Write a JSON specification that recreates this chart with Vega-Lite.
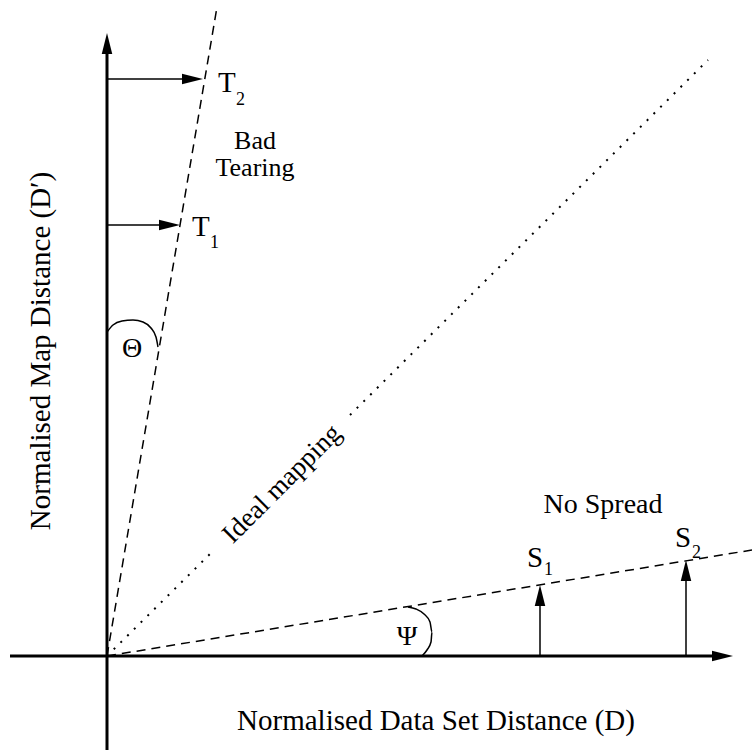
{
  "$schema": "https://vega.github.io/schema/vega-lite/v6.json",
  "width": 752,
  "height": 753,
  "padding": 0,
  "autosize": {"type": "none"},
  "background": "white",
  "config": {
    "view": {"stroke": null},
    "text": {"font": "Liberation Serif", "color": "black"}
  },
  "datasets": {
    "segments": [
      {"part": "axis", "x": -97, "y": 0, "x2": 615, "y2": 0},
      {"part": "axis", "x": 0, "y": -94, "x2": 0, "y2": 605},
      {"part": "arrow", "x": 0, "y": 577, "x2": 85, "y2": 577},
      {"part": "arrow", "x": 0, "y": 431, "x2": 62, "y2": 431},
      {"part": "arrow", "x": 433, "y": 0, "x2": 433, "y2": 60},
      {"part": "arrow", "x": 579, "y": 0, "x2": 579, "y2": 85},
      {"part": "dashed", "x": 0, "y": 0, "x2": 110, "y2": 649},
      {"part": "dashed", "x": 0, "y": 0, "x2": 645, "y2": 106},
      {"part": "ideal", "x": 0, "y": 0, "x2": 106, "y2": 105},
      {"part": "ideal", "x": 243, "y": 241, "x2": 601, "y2": 596}
    ],
    "arcs": [
      {"arc": "theta", "i": 1, "x": 0, "y": 324},
      {"arc": "theta", "i": 2, "x": 6, "y": 331},
      {"arc": "theta", "i": 3, "x": 15, "y": 335},
      {"arc": "theta", "i": 4, "x": 26, "y": 336},
      {"arc": "theta", "i": 5, "x": 36, "y": 334},
      {"arc": "theta", "i": 6, "x": 44, "y": 328},
      {"arc": "theta", "i": 7, "x": 49, "y": 319},
      {"arc": "theta", "i": 8, "x": 51, "y": 309},
      {"arc": "psi", "i": 1, "x": 301, "y": 49},
      {"arc": "psi", "i": 2, "x": 309, "y": 47},
      {"arc": "psi", "i": 3, "x": 317, "y": 42},
      {"arc": "psi", "i": 4, "x": 323, "y": 34},
      {"arc": "psi", "i": 5, "x": 325, "y": 24},
      {"arc": "psi", "i": 6, "x": 324, "y": 14},
      {"arc": "psi", "i": 7, "x": 320, "y": 6},
      {"arc": "psi", "i": 8, "x": 315, "y": 0}
    ],
    "heads": [
      {"dir": "right", "x": 626, "y": 0},
      {"dir": "right", "x": 96, "y": 577},
      {"dir": "right", "x": 73, "y": 431},
      {"dir": "up", "x": 0, "y": 623},
      {"dir": "up", "x": 433, "y": 71},
      {"dir": "up", "x": 579, "y": 96}
    ],
    "labels": [
      {"role": "main", "text": "T", "x": 111, "y": 564},
      {"role": "sub", "text": "2", "x": 129, "y": 551},
      {"role": "main", "text": "T", "x": 85, "y": 420},
      {"role": "sub", "text": "1", "x": 103, "y": 408},
      {"role": "main", "text": "S", "x": 420, "y": 89},
      {"role": "sub", "text": "1", "x": 437, "y": 81},
      {"role": "main", "text": "S", "x": 568, "y": 109},
      {"role": "sub", "text": "2", "x": 585, "y": 98},
      {"role": "center", "text": "No Spread", "x": 496, "y": 143},
      {"role": "center", "text": "Θ", "x": 25, "y": 299},
      {"role": "center", "text": "Ψ", "x": 300, "y": 11},
      {"role": "note", "text": "Bad", "x": 148, "y": 507},
      {"role": "note", "text": "Tearing", "x": 148, "y": 480},
      {"role": "xtitle", "text": "Normalised Data Set Distance (D)", "x": 329, "y": -74},
      {"role": "ytitle", "text": "Normalised Map Distance (D′)", "x": -57, "y": 305},
      {"role": "ideal", "text": "Ideal mapping", "x": 175, "y": 172}
    ]
  },
  "encoding": {
    "x": {"field": "x", "type": "quantitative", "scale": {"domain": [-107, 645], "nice": false, "zero": false}, "axis": null},
    "y": {"field": "y", "type": "quantitative", "scale": {"domain": [-97, 656], "nice": false, "zero": false}, "axis": null}
  },
  "layer": [
    {
      "data": {"name": "segments"},
      "transform": [{"filter": "datum.part == 'axis'"}],
      "mark": {"type": "rule", "color": "black", "strokeWidth": 3},
      "encoding": {"x2": {"field": "x2"}, "y2": {"field": "y2"}}
    },
    {
      "data": {"name": "segments"},
      "transform": [{"filter": "datum.part == 'arrow'"}],
      "mark": {"type": "rule", "color": "black", "strokeWidth": 1.5},
      "encoding": {"x2": {"field": "x2"}, "y2": {"field": "y2"}}
    },
    {
      "data": {"name": "segments"},
      "transform": [{"filter": "datum.part == 'dashed'"}],
      "mark": {"type": "rule", "color": "black", "strokeWidth": 1.5, "strokeDash": [9, 6]},
      "encoding": {"x2": {"field": "x2"}, "y2": {"field": "y2"}}
    },
    {
      "data": {"name": "segments"},
      "transform": [{"filter": "datum.part == 'ideal'"}],
      "mark": {"type": "rule", "color": "black", "strokeWidth": 2, "strokeDash": [2, 7.5]},
      "encoding": {"x2": {"field": "x2"}, "y2": {"field": "y2"}}
    },
    {
      "data": {"name": "arcs"},
      "mark": {"type": "line", "color": "black", "strokeWidth": 1.5, "interpolate": "monotone"},
      "encoding": {"detail": {"field": "arc"}, "order": {"field": "i", "type": "quantitative"}}
    },
    {
      "data": {"name": "heads"},
      "transform": [{"filter": "datum.dir == 'right'"}],
      "mark": {"type": "point", "shape": "M0,0L-2,-0.5L-2,0.5Z", "size": 441, "filled": true, "color": "black", "opacity": 1, "strokeWidth": 0}
    },
    {
      "data": {"name": "heads"},
      "transform": [{"filter": "datum.dir == 'up'"}],
      "mark": {"type": "point", "shape": "M0,0L-0.5,2L0.5,2Z", "size": 441, "filled": true, "color": "black", "opacity": 1, "strokeWidth": 0}
    },
    {
      "data": {"name": "labels"},
      "transform": [{"filter": "datum.role == 'main'"}],
      "mark": {"type": "text", "fontSize": 29, "align": "left", "baseline": "alphabetic"},
      "encoding": {"text": {"field": "text"}}
    },
    {
      "data": {"name": "labels"},
      "transform": [{"filter": "datum.role == 'sub'"}],
      "mark": {"type": "text", "fontSize": 18, "align": "left", "baseline": "alphabetic"},
      "encoding": {"text": {"field": "text"}}
    },
    {
      "data": {"name": "labels"},
      "transform": [{"filter": "datum.role == 'center'"}],
      "mark": {"type": "text", "fontSize": 28, "align": "center", "baseline": "alphabetic"},
      "encoding": {"text": {"field": "text"}}
    },
    {
      "data": {"name": "labels"},
      "transform": [{"filter": "datum.role == 'note'"}],
      "mark": {"type": "text", "fontSize": 26, "align": "center", "baseline": "alphabetic"},
      "encoding": {"text": {"field": "text"}}
    },
    {
      "data": {"name": "labels"},
      "transform": [{"filter": "datum.role == 'xtitle'"}],
      "mark": {"type": "text", "fontSize": 29, "align": "center", "baseline": "alphabetic"},
      "encoding": {"text": {"field": "text"}}
    },
    {
      "data": {"name": "labels"},
      "transform": [{"filter": "datum.role == 'ytitle'"}],
      "mark": {"type": "text", "fontSize": 29, "align": "center", "baseline": "alphabetic", "angle": 270},
      "encoding": {"text": {"field": "text"}}
    },
    {
      "data": {"name": "labels"},
      "transform": [{"filter": "datum.role == 'ideal'"}],
      "mark": {"type": "text", "fontSize": 27, "align": "center", "baseline": "middle", "angle": 315},
      "encoding": {"text": {"field": "text"}}
    }
  ]
}
